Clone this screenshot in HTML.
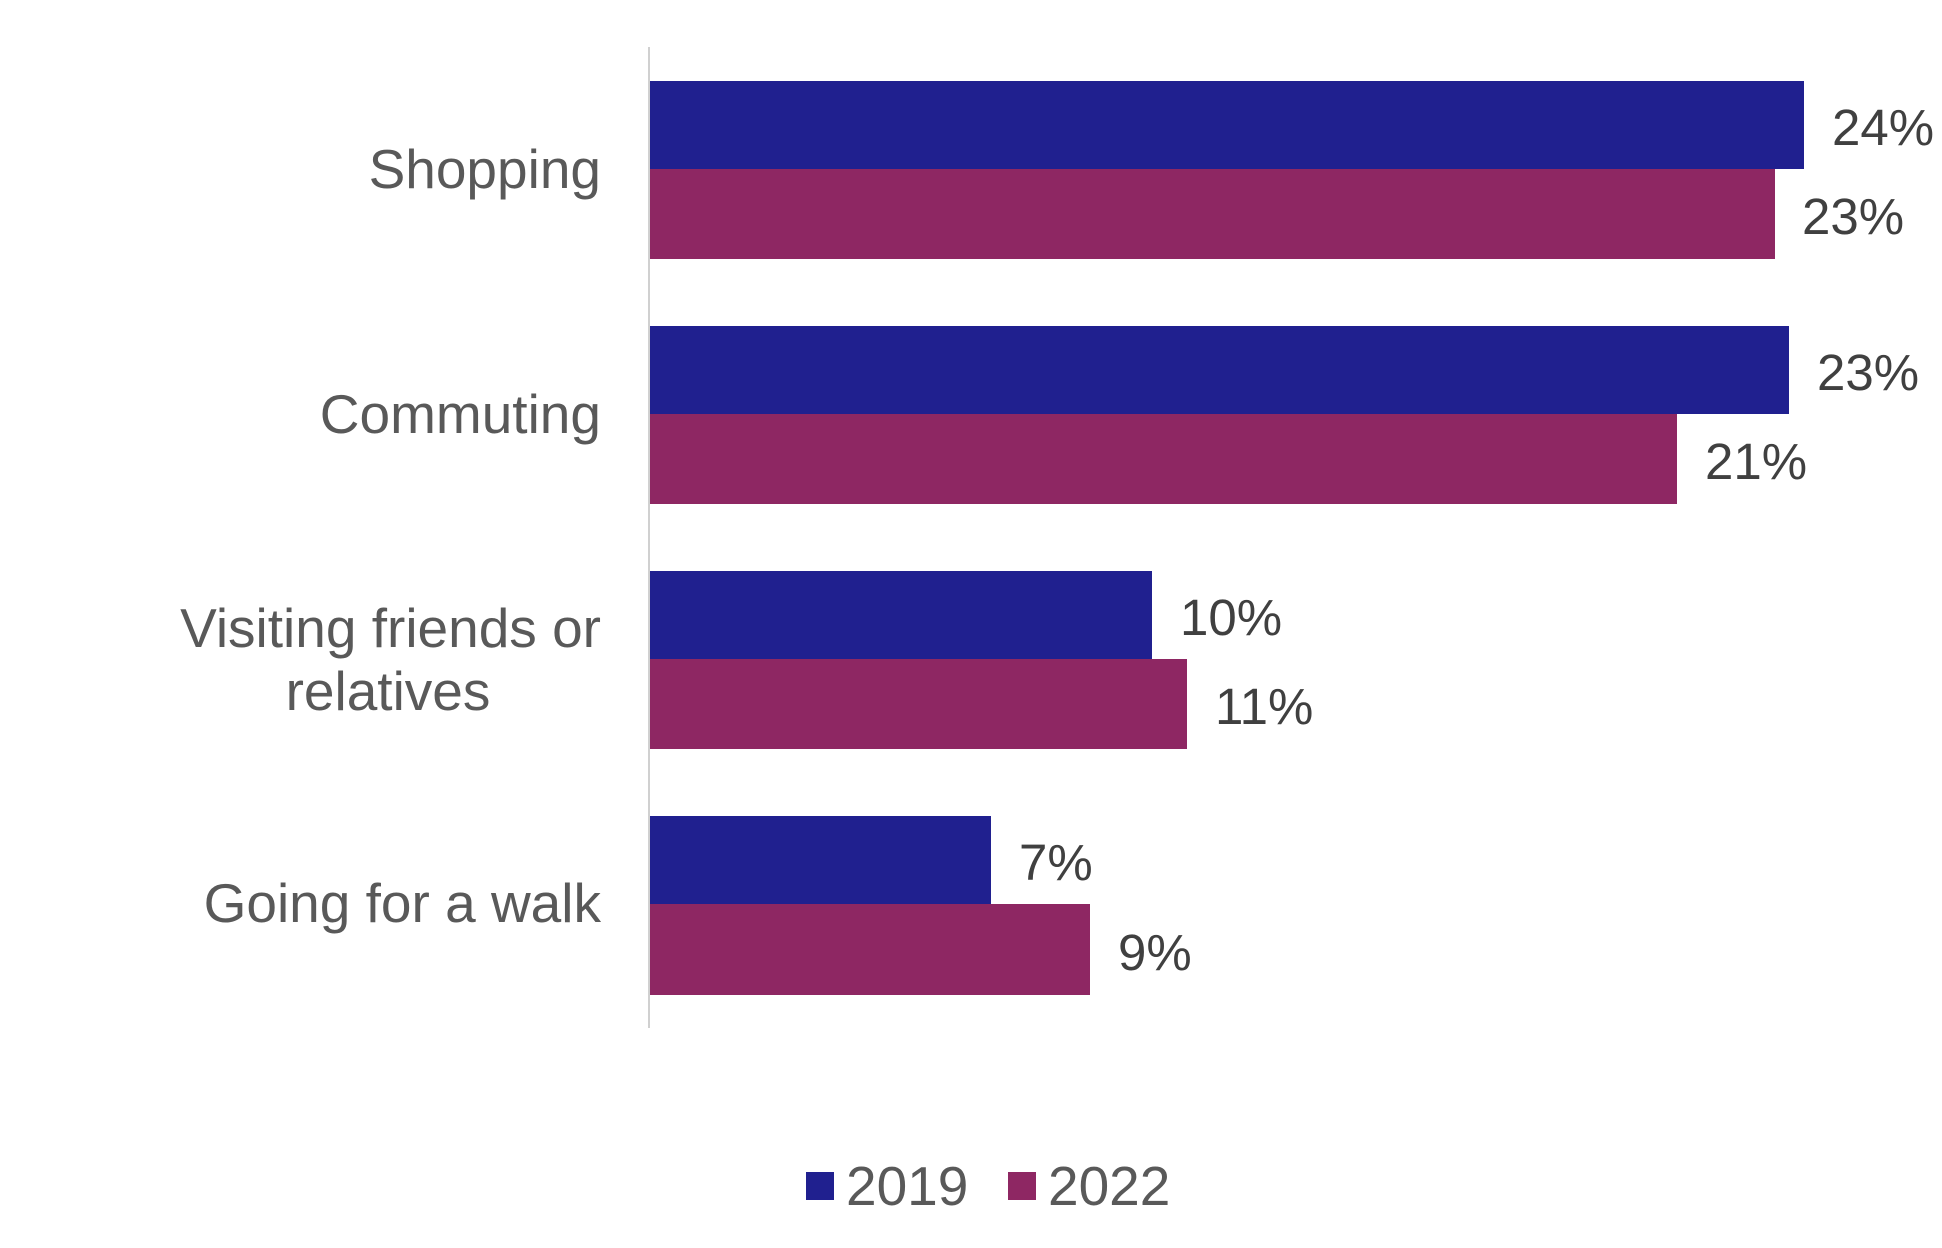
<!DOCTYPE html>
<html><head><meta charset="utf-8"><style>
html,body{margin:0;padding:0;background:#fff;}
svg{display:block;font-family:"Liberation Sans",Arial,sans-serif;}
</style></head><body>
<svg width="1942" height="1248" viewBox="0 0 1942 1248" xmlns="http://www.w3.org/2000/svg">
<rect width="1942" height="1248" fill="#fff"/>
<g fill="#20208F">
<rect x="650" y="81" width="1154" height="88"/>
<rect x="650" y="326" width="1139" height="88"/>
<rect x="650" y="571" width="502" height="88"/>
<rect x="650" y="816" width="341" height="88"/>
</g>
<g fill="#8E2763">
<rect x="650" y="169" width="1125" height="90"/>
<rect x="650" y="414" width="1027" height="90"/>
<rect x="650" y="659" width="537" height="90"/>
<rect x="650" y="904" width="440" height="91"/>
</g>
<line x1="649" y1="47" x2="649" y2="1028" stroke="#d0d0d0" stroke-width="2"/>
<g fill="#595959" font-size="55" text-anchor="end">
<text x="601" y="188">Shopping</text>
<text x="601" y="433">Commuting</text>
<text x="601" y="647">Visiting friends or</text>
<text x="388" y="710" text-anchor="middle">relatives</text>
<text x="601" y="922">Going for a walk</text>
</g>
<g fill="#404040" font-size="51">
<text x="1832" y="145">24%</text>
<text x="1802" y="234">23%</text>
<text x="1817" y="390">23%</text>
<text x="1705" y="479">21%</text>
<text x="1180" y="635">10%</text>
<text x="1215" y="724">11%</text>
<text x="1019" y="880">7%</text>
<text x="1118" y="970">9%</text>
</g>
<rect x="806" y="1172" width="28" height="28" fill="#20208F"/>
<rect x="1008" y="1172" width="28" height="28" fill="#8E2763"/>
<g fill="#595959" font-size="55">
<text x="846" y="1205">2019</text>
<text x="1048" y="1205">2022</text>
</g>
</svg>
</body></html>
